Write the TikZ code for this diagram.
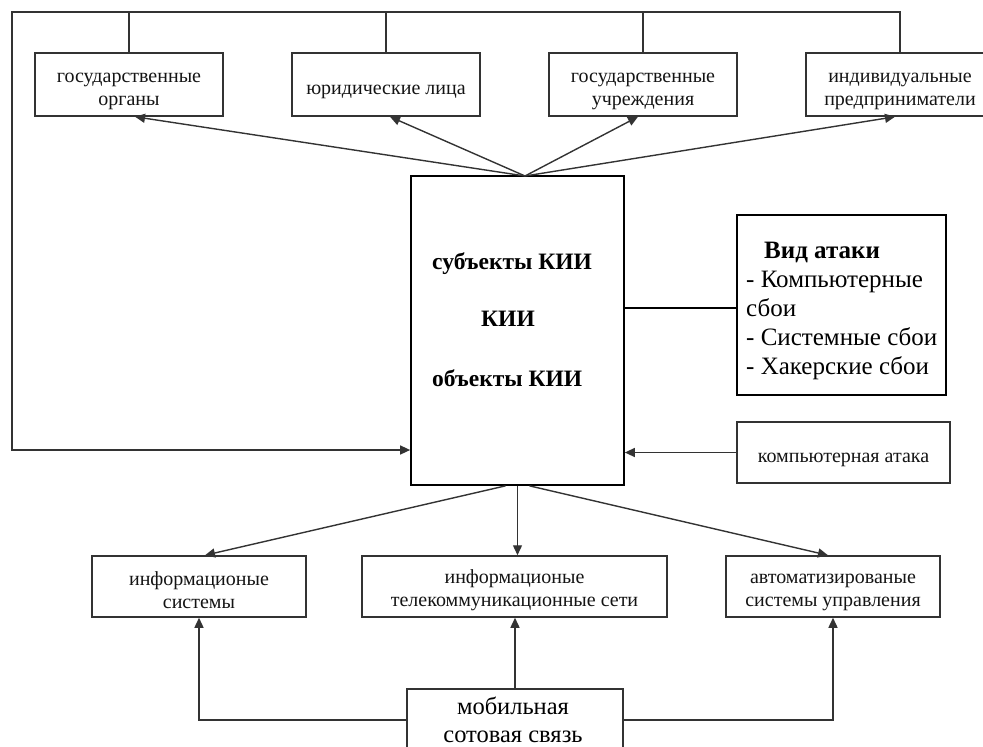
\documentclass[tikz,border=0pt]{standalone}
\usepackage{fontspec}
\setmainfont{Liberation Serif}
\usetikzlibrary{arrows.meta,calc}
\definecolor{linec}{HTML}{333333}
\definecolor{txt}{HTML}{141414}
\newcommand{\toppad}{\rule{0pt}{24pt}}
\newcommand{\botpad}{\rule{0pt}{22pt}}
\begin{document}
\begin{tikzpicture}[x=1pt,y=-1pt,
  box/.style={draw=linec, line width=1.5pt, inner sep=0pt, align=center,
    text=txt, font=\fontsize{20}{23}\selectfont},
  topbox/.style={box, minimum width=188pt, minimum height=63pt},
  botbox/.style={box, minimum height=61pt},
  bigbox/.style={draw=black, line width=1.7pt, inner sep=0pt},
  ctext/.style={inner sep=0pt, text=black, font=\fontsize{23.5}{28}\bfseries\selectfont},
  conn/.style={draw=linec, line width=1.4pt},
  arr/.style={conn, -{Triangle[length=10pt,width=9pt]}}]
\useasboundingbox (0,0) rectangle (983,747);

% top row
\node[topbox] (go) at (129,84.5) {\toppad государственные\\органы};
\node[topbox] (yl) at (386,84.5) {\toppad юридические лица};
\node[topbox] (gu) at (643,84.5) {\toppad государственные\\учреждения};
\node[topbox] (ip) at (900,84.5) {\toppad индивидуальные\\предприниматели};

% central box
\node[bigbox, minimum width=213pt, minimum height=309pt] (kii) at (517.5,330.5) {};
\node[ctext, anchor=west] (t1) at (432,264) {субъекты КИИ};
\node[ctext] (t2) at (508,319) {КИИ};
\node[ctext, anchor=west] (t3) at (432,378) {объекты КИИ};

% right boxes
\node[bigbox, minimum width=209pt, minimum height=180pt] (vid) at (841.5,305) {};
\node[anchor=west, align=left, inner sep=0pt, text=black,
  font=\fontsize{25}{29}\selectfont] (vidt) at (746,311)
  {\hspace*{18pt}\textbf{Вид атаки}\\- Компьютерные\\сбои\\- Системные сбои\\- Хакерские сбои};
\node[box, minimum width=213pt, minimum height=61pt] (katt) at (843.5,452.5) {\toppad компьютерная атака};

% bottom row
\node[botbox, minimum width=214pt] (is) at (199,586.5) {\botpad информационые\\системы};
\node[botbox, minimum width=305pt] (its) at (514.5,586.5) {\botpad информационые\\телекоммуникационные сети};
\node[botbox, minimum width=214pt] (asu) at (833,586.5) {\botpad автоматизированые\\системы управления};

% mobile
\node[draw=linec, line width=1.5pt, inner sep=0pt, minimum width=216pt, minimum height=72pt] (mob) at (515,725) {};
\node[inner sep=0pt, align=center, text=black,
  font=\fontsize{24.5}{28}\selectfont] (mobt) at (513,720) {мобильная\\сотовая связь};

% top frame
\coordinate (tl) at (12,12);
\draw[arr] (ip.north) |- (tl) |- (kii.west |- 0,450);
\draw[conn] (go.north) -- (go.north |- tl);
\draw[conn] (yl.north) -- (yl.north |- tl);
\draw[conn] (gu.north) -- (gu.north |- tl);

% arrows from central top
\coordinate (ktop) at (525,176);
\draw[arr] (ktop) -- ($(go.south)+(6,0)$);
\draw[arr] (ktop) -- ($(yl.south)+(4,0)$);
\draw[arr] (ktop) -- ($(gu.south)+(-5,0)$);
\draw[arr] (ktop) -- ($(ip.south)+(-5,0)$);

% right connections
\draw[conn, draw=black] ([yshift=-3pt]vid.west) -- ([yshift=-3pt]vid.west -| kii.east);
\draw[arr] (katt.west) -- (katt.west -| kii.east);

% arrows from central bottom
\draw[arr] ($(kii.south)+(-12,0)$) -- ($(is.north)+(6,0)$);
\draw[arr] (kii.south) -- (kii.south |- its.north);
\draw[arr] ($(kii.south)+(12,0)$) -- ($(asu.north)+(-5,0)$);

% mobile connections
\draw[arr] ([yshift=5pt]mob.west) -| (is.south);
\draw[arr] (mob.north) -- (mob.north |- its.south);
\draw[arr] ([yshift=5pt]mob.east) -| (asu.south);
\end{tikzpicture}
\end{document}
